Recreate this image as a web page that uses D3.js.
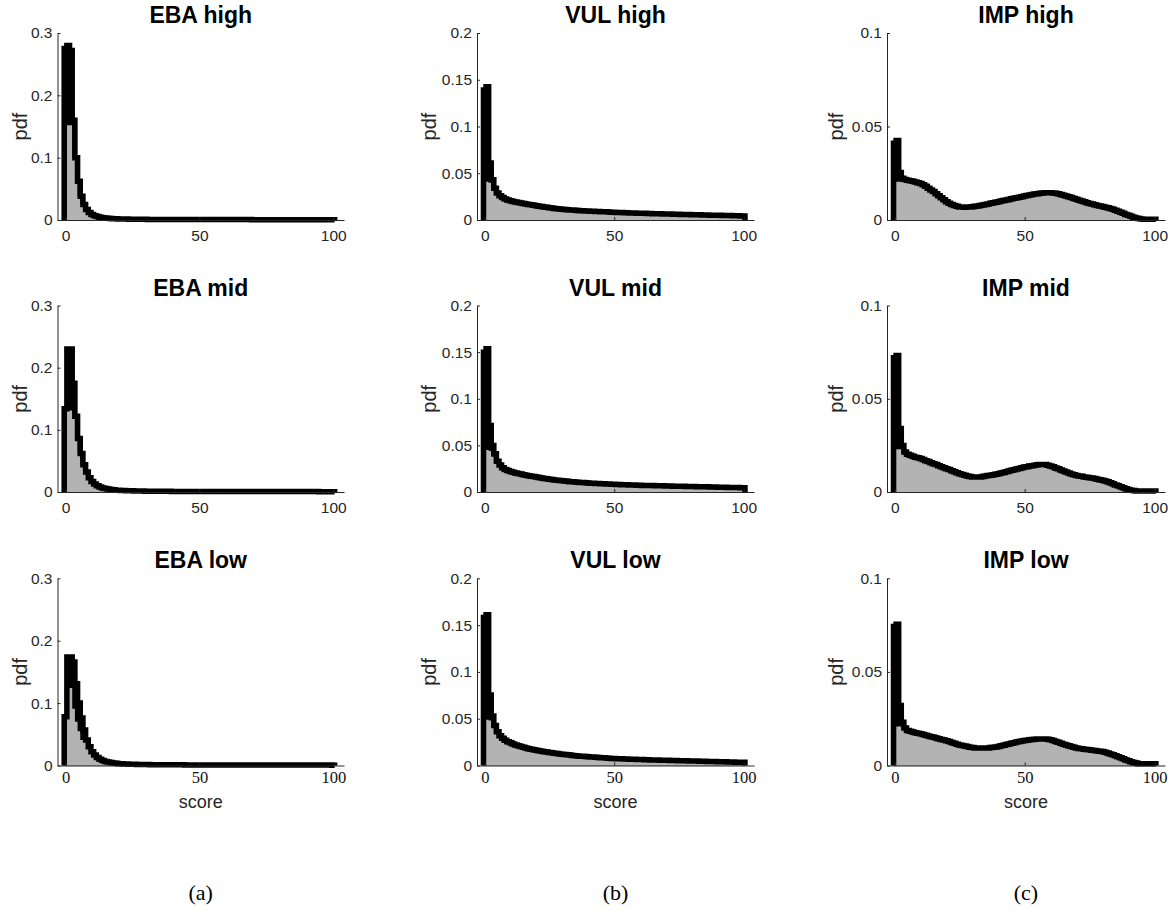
<!DOCTYPE html>
<html>
<head>
<meta charset="utf-8">
<script src="https://cdn.jsdelivr.net/npm/d3@7"></script>
<style>
  body { margin: 0; background: #fff; }
  svg { display: block; }
</style>
</head>
<body>
<svg id="fig" width="1170" height="910"></svg>
<script>
// score bins 0..100 (one bin per integer score)
var scores = d3.range(0, 101);

// pdf values per bin (black outline)
var ebaHigh = [
  .275,.280,.272,.160,.100,.062,.038,.025,.017,.012,
  .0090,.0070,.0055,.0045,.0038,.0032,.0028,.0025,.0022,.0020,
  .0018,.0017,.0016,.0015,.0014,.0013,.0013,.0012,.0012,.0011,
  .0011,.0010,.0010,.0010,.0010,.0009,.0009,.0009,.0009,.0009,
  .0008,.0008,.0008,.0008,.0008,.0008,.0008,.0008,.0008,.0008,
  .0008,.0008,.0007,.0007,.0007,.0007,.0007,.0007,.0007,.0007,
  .0007,.0007,.0007,.0007,.0007,.0007,.0007,.0007,.0007,.0007,
  .0006,.0006,.0006,.0006,.0006,.0006,.0006,.0006,.0006,.0006,
  .0006,.0006,.0006,.0006,.0006,.0006,.0006,.0006,.0006,.0006,
  .0005,.0005,.0005,.0005,.0005,.0005,.0005,.0005,.0005,.0005,
  .0005];
var ebaMid = [
  .134,.230,.230,.175,.122,.086,.062,.044,.032,.023,
  .017,.013,.010,.008,.0065,.0055,.0047,.0040,.0035,.0030,
  .0027,.0025,.0023,.0021,.0020,.0019,.0018,.0017,.0016,.0015,
  .0014,.0014,.0013,.0013,.0012,.0012,.0012,.0011,.0011,.0011,
  .0010,.0010,.0010,.0010,.0010,.0010,.0010,.0010,.0010,.0010,
  .0009,.0009,.0009,.0009,.0009,.0009,.0009,.0009,.0009,.0009,
  .0009,.0009,.0009,.0009,.0009,.0008,.0008,.0008,.0008,.0008,
  .0008,.0008,.0008,.0008,.0008,.0008,.0008,.0008,.0008,.0008,
  .0007,.0007,.0007,.0007,.0007,.0007,.0007,.0007,.0007,.0007,
  .0007,.0007,.0007,.0007,.0007,.0006,.0006,.0006,.0006,.0006,
  .0006];
var ebaLow = [
  .078,.174,.174,.166,.131,.100,.076,.057,.041,.030,
  .022,.017,.013,.010,.008,.0065,.0055,.0047,.0040,.0035,
  .0030,.0028,.0026,.0024,.0022,.0020,.0019,.0018,.0017,.0016,
  .0015,.0015,.0014,.0014,.0013,.0013,.0012,.0012,.0012,.0011,
  .0011,.0011,.0011,.0011,.0011,.0010,.0010,.0010,.0010,.0010,
  .0010,.0010,.0010,.0010,.0010,.0009,.0009,.0009,.0009,.0009,
  .0009,.0009,.0009,.0009,.0009,.0009,.0009,.0009,.0009,.0009,
  .0008,.0008,.0008,.0008,.0008,.0008,.0008,.0008,.0008,.0008,
  .0008,.0008,.0008,.0008,.0008,.0007,.0007,.0007,.0007,.0007,
  .0007,.0007,.0007,.0007,.0007,.0007,.0007,.0007,.0007,.0007,
  .0006];
var vulHigh = [
  .139,.1425,.061,.043,.034,.029,.026,.024,.0225,.0215,
  .0205,.0198,.0192,.0187,.0182,.0177,.0172,.0167,.0162,.0157,
  .0152,.0148,.0144,.0140,.0136,.0132,.0128,.0124,.0120,.0117,
  .0114,.0112,.0110,.0108,.0106,.0104,.0102,.0100,.0099,.0097,
  .0096,.0094,.0093,.0092,.0090,.0089,.0088,.0087,.0085,.0084,
  .0082,.0081,.0080,.0079,.0078,.0077,.0076,.0075,.0074,.0073,
  .0072,.0071,.0071,.0070,.0069,.0068,.0068,.0067,.0066,.0065,
  .0064,.0064,.0063,.0062,.0062,.0061,.0060,.0059,.0059,.0058,
  .0057,.0057,.0056,.0055,.0054,.0054,.0053,.0052,.0052,.0051,
  .0050,.0050,.0049,.0048,.0047,.0047,.0046,.0045,.0045,.0044,
  .0043];
var vulMid = [
  .150,.1536,.0714,.050,.041,.033,.029,.026,.024,.023,
  .0220,.0212,.0205,.0198,.0192,.0186,.0180,.0175,.0170,.0165,
  .0160,.0155,.0150,.0146,.0142,.0138,.0134,.0130,.0126,.0123,
  .0120,.0117,.0114,.0111,.0109,.0107,.0105,.0103,.0101,.0099,
  .0097,.0095,.0093,.0092,.0090,.0089,.0088,.0086,.0085,.0083,
  .0082,.0081,.0080,.0079,.0078,.0077,.0076,.0075,.0074,.0073,
  .0072,.0071,.0071,.0070,.0069,.0069,.0068,.0067,.0067,.0066,
  .0065,.0065,.0064,.0063,.0063,.0062,.0061,.0061,.0060,.0059,
  .0059,.0058,.0057,.0057,.0056,.0055,.0055,.0054,.0053,.0053,
  .0052,.0051,.0051,.0050,.0049,.0049,.0048,.0047,.0047,.0046,
  .0045];
var vulLow = [
  .158,.161,.0754,.053,.0427,.036,.0317,.029,.027,.0255,
  .0242,.0230,.0220,.0210,.0202,.0194,.0187,.0180,.0174,.0168,
  .0162,.0157,.0152,.0147,.0143,.0139,.0135,.0131,.0127,.0124,
  .0121,.0117,.0114,.0111,.0108,.0105,.0102,.0100,.0098,.0096,
  .0094,.0092,.0090,.0088,.0086,.0084,.0082,.0080,.0078,.0076,
  .0074,.0073,.0072,.0071,.0070,.0069,.0068,.0067,.0066,.0065,
  .0064,.0063,.0062,.0061,.0060,.0060,.0059,.0058,.0057,.0056,
  .0056,.0055,.0054,.0053,.0053,.0052,.0051,.0050,.0050,.0049,
  .0048,.0047,.0047,.0046,.0045,.0045,.0044,.0043,.0042,.0042,
  .0041,.0040,.0040,.0039,.0038,.0038,.0037,.0036,.0036,.0035,
  .0035];
var impHigh = [
  .0410,.0425,.0254,.0223,.0216,.0213,.0210,.0207,.0203,.0199,
  .0195,.0188,.0180,.0170,.0161,.0152,.0141,.0130,.0119,.0108,
  .0098,.0090,.0083,.0077,.0073,.0070,.0069,.0068,.0069,.0070,
  .0071,.0073,.0075,.0078,.0080,.0083,.0086,.0089,.0092,.0095,
  .0098,.0101,.0104,.0107,.0110,.0113,.0116,.0119,.0122,.0125,
  .0128,.0131,.0134,.0137,.0139,.0141,.0143,.0145,.0146,.0146,
  .0146,.0145,.0143,.0140,.0137,.0133,.0129,.0124,.0120,.0115,
  .0111,.0106,.0101,.0097,.0092,.0088,.0085,.0081,.0078,.0075,
  .0072,.0068,.0065,.0061,.0057,.0052,.0047,.0042,.0036,.0030,
  .0025,.0020,.0015,.0011,.0008,.0006,.0004,.0004,.0004,.0004,
  .0004];
var impMid = [
  .0720,.0732,.0340,.0250,.0214,.0202,.0197,.0192,.0187,.0183,
  .0179,.0174,.0168,.0163,.0157,.0152,.0147,.0141,.0136,.0130,
  .0125,.0120,.0114,.0109,.0103,.0098,.0094,.0090,.0086,.0083,
  .0081,.0080,.0080,.0081,.0083,.0086,.0088,.0090,.0093,.0095,
  .0098,.0102,.0105,.0109,.0112,.0116,.0119,.0123,.0126,.0130,
  .0134,.0136,.0139,.0141,.0144,.0146,.0147,.0147,.0147,.0144,
  .0140,.0135,.0129,.0124,.0118,.0112,.0107,.0102,.0097,.0093,
  .0089,.0086,.0084,.0081,.0079,.0077,.0075,.0072,.0069,.0066,
  .0063,.0059,.0055,.0050,.0044,.0038,.0033,.0028,.0023,.0018,
  .0013,.0010,.0008,.0006,.0005,.0005,.0005,.0005,.0005,.0005,
  .0006];
var impLow = [
  .0742,.0754,.0320,.0231,.0200,.0187,.0183,.0179,.0175,.0172,
  .0169,.0165,.0161,.0158,.0154,.0151,.0147,.0143,.0139,.0136,
  .0132,.0128,.0123,.0119,.0114,.0110,.0107,.0104,.0101,.0098,
  .0096,.0094,.0093,.0093,.0093,.0093,.0094,.0096,.0097,.0099,
  .0101,.0105,.0108,.0112,.0115,.0119,.0122,.0125,.0128,.0131,
  .0133,.0135,.0137,.0139,.0140,.0142,.0142,.0142,.0142,.0140,
  .0137,.0133,.0128,.0124,.0119,.0114,.0110,.0105,.0101,.0097,
  .0093,.0091,.0089,.0087,.0085,.0084,.0082,.0080,.0078,.0076,
  .0075,.0071,.0067,.0062,.0057,.0052,.0047,.0041,.0036,.0030,
  .0025,.0020,.0016,.0013,.0010,.0009,.0009,.0009,.0009,.0009,
  .0010];

// grey fill differs from the outline only in the first bins
var ebaHighFill = [0, .152, .152, .100, .062, .038, .025];
var ebaMidFill  = [0, .131, .131, .118, .085, .060, .043];
var ebaLowFill  = [0, .124, .124, .091, .070, .055, .041];
var vulHighFill = [0, .041, .040, .034, .028];
var vulMidFill  = [0, .045, .044, .038, .032];
var vulLowFill  = [0, .049, .048, .041, .035];
var impHighFill = [0, .0205, .0205, .0205];
var impMidFill  = [0, .0229, .0229, .0222];
var impLowFill  = [0, .0208, .0208, .0200];

var titles = [["EBA high","VUL high","IMP high"],
              ["EBA mid","VUL mid","IMP mid"],
              ["EBA low","VUL low","IMP low"]];
var pdfs = [[ebaHigh, vulHigh, impHigh], [ebaMid, vulMid, impMid], [ebaLow, vulLow, impLow]];
var fills = [[ebaHighFill, vulHighFill, impHighFill], [ebaMidFill, vulMidFill, impMidFill], [ebaLowFill, vulLowFill, impLowFill]];
var yMax = [0.3, 0.2, 0.1];
var yTicks = [[0, 0.1, 0.2, 0.3], [0, 0.05, 0.1, 0.15, 0.2], [0, 0.05, 0.1]];
var xTicks = [0, 50, 100];
var subLabels = ["(a)", "(b)", "(c)"];

// layout
var colLeft = [57.5, 477, 887], colRight = [344, 754, 1165];
var rowZero = [220, 492, 765.5], rowTop = [33, 305.5, 578.3];
var pdfLabelX = [20, 429, 836];
var axisColor = "#262626";
var sans = "'Liberation Sans', Arial, sans-serif";
var serif = "'Liberation Serif', 'DejaVu Serif', serif";

var svg = d3.select("#fig");
svg.append("rect").attr("width", 1170).attr("height", 910).attr("fill", "#fff");

for (var r = 0; r < 3; r++) {
  for (var c = 0; c < 3; c++) {
    drawPanel(r, c);
  }
}

function drawPanel(r, c) {
  var x = d3.scaleLinear().domain([-3, 104]).range([colLeft[c], colRight[c]]);
  var y = d3.scaleLinear().domain([0, yMax[c]]).range([rowZero[r], rowTop[r]]);
  var g = svg.append("g");
  var vals = pdfs[r][c];
  var head = fills[r][c];
  var fillVals = head.concat(vals.slice(head.length));

  function stepPoints(v) {
    var p = v.map(function(d, i){ return [scores[i] - 0.5, d]; });
    p.push([scores[v.length - 1] + 0.5, v[v.length - 1]]);
    return p;
  }
  var pts = stepPoints(vals), fpts = stepPoints(fillVals);

  var area = d3.area().curve(d3.curveStepAfter)
    .x(function(d){ return x(d[0]); })
    .y0(y(0))
    .y1(function(d){ return y(d[1]); });
  var line = d3.line().curve(d3.curveStepAfter)
    .x(function(d){ return x(d[0]); })
    .y(function(d){ return y(d[1]); });

  g.append("path").attr("d", area(pts)).attr("fill", "#000");
  g.append("path").attr("d", area(fpts)).attr("fill", "#b3b3b3");

  var linePts = [[pts[0][0], 0]].concat(pts).concat([[pts[pts.length - 1][0], 0]]);
  g.append("path").attr("d", line(linePts))
    .attr("fill", "none").attr("stroke", "#000")
    .attr("stroke-width", 5.5).attr("stroke-linejoin", "miter");

  // axes (ticks point inward)
  var ya = g.append("g").attr("transform", "translate(" + colLeft[c] + ",0)")
    .call(d3.axisLeft(y).tickValues(yTicks[c]).tickSize(-3).tickSizeOuter(0).tickPadding(5)
      .tickFormat(d3.format("~g")));
  var xa = g.append("g").attr("transform", "translate(0," + rowZero[r] + ")")
    .call(d3.axisBottom(x).tickValues(xTicks).tickSize(-3).tickSizeOuter(0)
      .tickPadding(r === 2 ? 6 : 10));
  [ya, xa].forEach(function(a){
    a.select(".domain").attr("stroke", axisColor);
    a.selectAll(".tick line").attr("stroke", axisColor);
    a.selectAll(".tick text").attr("fill", axisColor)
      .style("font-family", sans).style("font-size", "15.5px");
  });
  if (r === 2) {
    xa.selectAll(".tick text").style("font-family", serif).style("font-size", "16.5px").attr("fill", "#111");
  }

  var cx = (colLeft[c] + colRight[c]) / 2;
  g.append("text").text(titles[r][c])
    .attr("x", cx).attr("y", rowTop[r] - 10)
    .attr("text-anchor", "middle")
    .style("font-family", sans).style("font-size", "23px").style("font-weight", "bold")
    .attr("fill", "#000");

  g.append("text").text("pdf")
    .attr("transform", "translate(" + (pdfLabelX[c] + 7) + "," + ((rowTop[r] + rowZero[r]) / 2) + ") rotate(-90)")
    .attr("text-anchor", "middle")
    .style("font-family", sans).style("font-size", "20px")
    .attr("fill", axisColor);

  if (r === 2) {
    g.append("text").text("score")
      .attr("x", cx).attr("y", 808)
      .attr("text-anchor", "middle")
      .style("font-family", sans).style("font-size", "18px")
      .attr("fill", axisColor);
    g.append("text").text(subLabels[c])
      .attr("x", cx).attr("y", 900)
      .attr("text-anchor", "middle")
      .style("font-family", serif).style("font-size", "22px")
      .attr("fill", "#000");
  }
}
</script>
</body>
</html>
